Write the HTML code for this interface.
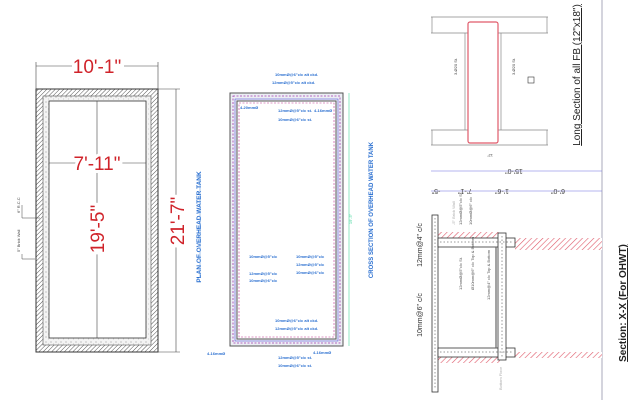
<!DOCTYPE html>
<html><head><meta charset="utf-8"><style>
html,body{margin:0;padding:0;background:#fff;width:640px;height:400px;overflow:hidden}
svg{display:block;font-family:"Liberation Sans",sans-serif}
</style></head><body>
<svg width="640" height="400" viewBox="0 0 640 400" xmlns="http://www.w3.org/2000/svg">
<defs>
<pattern id="hat" width="3" height="3" patternUnits="userSpaceOnUse" patternTransform="rotate(45)">
<rect width="3" height="3" fill="#fff"/><line x1="0" y1="0" x2="0" y2="3" stroke="#555" stroke-width="1"/></pattern>
<pattern id="dots" width="5" height="5" patternUnits="userSpaceOnUse">
<rect width="5" height="5" fill="#f4f4f4"/><circle cx="1" cy="2" r="0.5" fill="#777"/><circle cx="3.5" cy="4" r="0.4" fill="#999"/></pattern>
<pattern id="rhat" width="4" height="4" patternUnits="userSpaceOnUse" patternTransform="rotate(45)">
<rect width="4" height="4" fill="#fff"/><line x1="0" y1="0" x2="0" y2="4" stroke="#e05a6a" stroke-width="1.2"/></pattern>
</defs>

<!-- PLAN -->
<rect x="36" y="89" width="122" height="263" fill="url(#hat)" stroke="#333"/>
<rect x="43" y="96" width="108" height="249" fill="url(#dots)" stroke="#555" stroke-width="0.6"/>
<rect x="49" y="101" width="97" height="237" fill="#fff" stroke="#333" stroke-width="0.8"/>
<line x1="36" y1="66" x2="158" y2="66" stroke="#444" stroke-width="0.6"/>
<line x1="36" y1="62" x2="36" y2="89" stroke="#444" stroke-width="0.6"/>
<line x1="158" y1="62" x2="158" y2="89" stroke="#444" stroke-width="0.6"/>
<rect x="72" y="57" width="52" height="18" fill="#fff"/>
<text x="97" y="73" font-size="19" fill="#d0232a" text-anchor="middle">10'-1"</text>
<line x1="158" y1="89" x2="180" y2="89" stroke="#444" stroke-width="0.6"/>
<line x1="158" y1="352" x2="180" y2="352" stroke="#444" stroke-width="0.6"/>
<line x1="176" y1="89" x2="176" y2="352" stroke="#444" stroke-width="0.6"/>
<text transform="translate(184,221) rotate(-90)" font-size="19" fill="#d0232a" text-anchor="middle" style="paint-order:stroke" stroke="#fff" stroke-width="6">21'-7"</text>
<line x1="97" y1="101" x2="97" y2="338" stroke="#444" stroke-width="0.6"/>
<line x1="49" y1="163" x2="146" y2="163" stroke="#444" stroke-width="0.6"/>
<text x="97" y="170" font-size="19" fill="#d0232a" text-anchor="middle" style="paint-order:stroke" stroke="#fff" stroke-width="6">7'-11"</text>
<text transform="translate(104,229) rotate(-90)" font-size="19" fill="#d0232a" text-anchor="middle" style="paint-order:stroke" stroke="#fff" stroke-width="6">19'-5"</text>
<text transform="translate(201,227) rotate(-90)" font-size="6.5" font-weight="bold" fill="#2a6fd0" text-anchor="middle">PLAN OF OVERHEAD WATER TANK</text>
<polyline points="22,205 22,218 40,218" fill="none" stroke="#444" stroke-width="0.5"/>
<text transform="translate(20,213) rotate(-90)" font-size="4" fill="#444">6" R.C.C</text>
<polyline points="22,254 22,259 35,259" fill="none" stroke="#444" stroke-width="0.5"/>
<text transform="translate(20,252) rotate(-90)" font-size="4" fill="#444">5" Brick Wall</text>

<!-- CROSS SECTION -->
<line x1="200" y1="173" x2="200" y2="278" stroke="#8ab4e8" stroke-width="0.8"/>
<rect x="230" y="93" width="113" height="253" fill="#eceef4" stroke="#555"/>
<rect x="237" y="101" width="99" height="238" fill="#fff" stroke="#555"/>
<rect x="233" y="96" width="107" height="247" fill="none" stroke="#a03cb0" stroke-width="0.8" stroke-dasharray="2,1.5"/>
<rect x="235" y="99" width="103" height="242" fill="none" stroke="#3a3ad0" stroke-width="0.5"/>
<rect x="239" y="103" width="95" height="234" fill="none" stroke="#c03090" stroke-width="0.6" stroke-dasharray="2,1.5"/>
<line x1="349" y1="93" x2="349" y2="346" stroke="#4ad8a0" stroke-width="0.6"/>
<text transform="translate(352,219) rotate(-90)" font-size="4" fill="#4ad8a0" text-anchor="middle">19'-5"</text>
<text transform="translate(373,210) rotate(-90)" font-size="6" font-weight="bold" fill="#2a6fd0" text-anchor="middle">CROSS SECTION OF OVERHEAD WATER TANK</text>
<g font-size="4" fill="#2a6fd0" font-weight="bold">
<text x="275" y="76">10mmØ@6"c/c alt ckd.</text>
<text x="272" y="84">12mmØ@5"c/c alt ckd.</text>
<text x="240" y="109">4-20mmØ</text>
<text x="314" y="112">4-16mmØ</text>
<text x="278" y="112">12mmØ@5"c/c st.</text>
<text x="278" y="121">10mmØ@6"c/c st.</text>
<text x="249" y="258">10mmØ@5"c/c</text>
<text x="249" y="275">12mmØ@5"c/c</text>
<text x="249" y="282">10mmØ@6"c/c</text>
<text x="296" y="258">10mmØ@5"c/c</text>
<text x="296" y="266">12mmØ@5"c/c</text>
<text x="296" y="274">10mmØ@6"c/c</text>
<text x="275" y="322">10mmØ@6"c/c alt ckd.</text>
<text x="275" y="330">12mmØ@5"c/c alt ckd.</text>
<text x="207" y="355">4-16mmØ</text>
<text x="313" y="354">4-16mmØ</text>
<text x="278" y="359">12mmØ@5"c/c st.</text>
<text x="278" y="367">10mmØ@6"c/c st.</text>
</g>

<!-- divider -->
<line x1="602" y1="0" x2="602" y2="400" stroke="#aab" stroke-width="1"/>

<!-- LONG SECTION -->
<g stroke="#888" stroke-width="0.7" fill="none">
<polyline points="431,17 548,17"/><polyline points="431,33 468,33"/><polyline points="498,33 548,33"/>
<polyline points="431,130 468,130"/><polyline points="498,130 548,130"/><polyline points="431,145 548,145"/>
<line x1="432" y1="17" x2="432" y2="33"/><line x1="547" y1="17" x2="547" y2="33"/>
<line x1="432" y1="130" x2="432" y2="145"/><line x1="547" y1="130" x2="547" y2="145"/>
<line x1="465" y1="33" x2="465" y2="130"/><line x1="501" y1="33" x2="501" y2="130"/>
</g>
<rect x="468" y="22" width="30" height="121" rx="2" fill="#fff" stroke="#e05a6a" stroke-width="1.2"/>
<g font-size="4" fill="#444">
<text transform="translate(457,75) rotate(-90)">3-Ø20 St.</text>
<text transform="translate(515,75) rotate(-90)">3-Ø20 St.</text>
<text transform="translate(490,154) rotate(180)" text-anchor="middle">12"</text>
</g>
<rect x="528" y="77" width="6" height="6" fill="none" stroke="#333" stroke-width="0.6"/>
<text transform="translate(580,75) rotate(-90)" font-size="10" fill="#222" text-anchor="middle" text-decoration="underline">Long Section of all FB (12"x18")</text>

<!-- SECTION X-X -->
<g stroke="#6a6ae0" stroke-width="0.6">
<line x1="431" y1="171" x2="602" y2="171"/>
<line x1="431" y1="191" x2="602" y2="191"/>
</g>
<g font-size="7" fill="#444" text-anchor="middle">
<text transform="translate(514,169) rotate(180)">15'-0"</text>
<text transform="translate(436,189) rotate(180)">-5"</text>
<text transform="translate(465,189) rotate(180)">7'-1"</text>
<text transform="translate(502,189) rotate(180)">1'-6"</text>
<text transform="translate(558,189) rotate(180)">6'-0"</text>
</g>
<rect x="437" y="232" width="63" height="6" fill="url(#rhat)"/>
<rect x="515" y="238" width="87" height="12" fill="url(#rhat)"/>
<rect x="437" y="357" width="63" height="6" fill="url(#rhat)"/>
<rect x="515" y="352" width="87" height="6" fill="url(#rhat)"/>
<rect x="432" y="215" width="6" height="177" fill="#fff" stroke="#333" stroke-width="0.8"/>
<rect x="438" y="238" width="77" height="9" fill="#fff" stroke="#333" stroke-width="0.8"/>
<rect x="438" y="348" width="77" height="9" fill="#fff" stroke="#333" stroke-width="0.8"/>
<rect x="498" y="233" width="8" height="127" fill="#fff" stroke="#333" stroke-width="0.8"/>
<line x1="496" y1="247" x2="496" y2="348" stroke="#666" stroke-width="1.2"/>
<line x1="435" y1="218" x2="435" y2="389" stroke="#333" stroke-width="0.5" stroke-dasharray="1.5,2"/>
<line x1="502" y1="236" x2="502" y2="357" stroke="#333" stroke-width="0.5" stroke-dasharray="1.5,2"/>
<line x1="440" y1="242" x2="512" y2="242" stroke="#333" stroke-width="0.5" stroke-dasharray="1.5,2"/>
<line x1="440" y1="352" x2="512" y2="352" stroke="#333" stroke-width="0.5" stroke-dasharray="1.5,2"/>
<g font-size="7" fill="#333">
<text transform="translate(422,245) rotate(-90)" text-anchor="middle">12mm@4" c/c</text>
<text transform="translate(422,315) rotate(-90)" text-anchor="middle">10mm@6" c/c</text>
</g>
<g font-size="4" fill="#555">
<text transform="translate(462,225) rotate(-90)">12mmØ@5"c/c St.</text>
<text transform="translate(472,225) rotate(-90)">10mmØ@6" c/c</text>
<text transform="translate(462,290) rotate(-90)">12mmØ@5"c/c St.</text>
<text transform="translate(474,290) rotate(-90)">Ø10mm@6" c/c Top &amp; Bottom</text>
<text transform="translate(490,300) rotate(-90)">12mm@4" c/c Top &amp; Bottom</text>
<text transform="translate(455,225) rotate(-90)" fill="#aaa">-5" Brick Wall</text>
<text transform="translate(502,390) rotate(-90)" fill="#aaa">Bottom Floor</text>
</g>
<text transform="translate(626,303) rotate(-90)" font-size="10" font-weight="bold" fill="#222" text-anchor="middle" text-decoration="underline">Section: X-X (For OHWT)</text>
</svg>
</body></html>
